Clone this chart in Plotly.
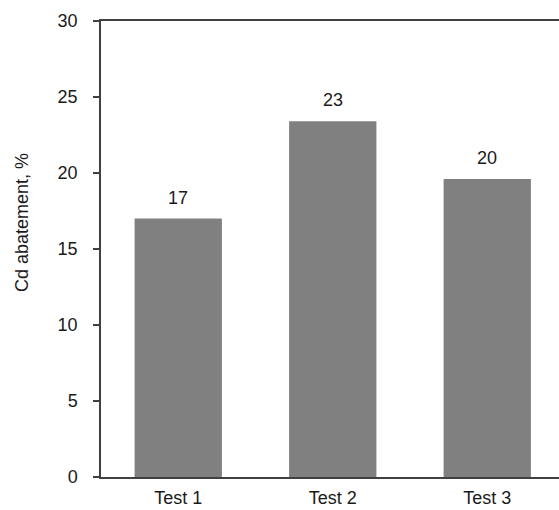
import plotly.graph_objects as go

categories = ["Test 1", "Test 2", "Test 3"]
values = [17.0, 23.4, 19.6]
value_labels = ["17", "23", "20"]
y_ticks = [0, 5, 10, 15, 20, 25, 30]

W, H = 559, 510
left, top, bottom = 101, 21, 33
plot_w = W - left
step = 154.5
x_max = -0.5 + plot_w / step

font = dict(family="Liberation Sans, Arial, sans-serif", size=18, color="#1a1a1a")
axis_col = "#404040"

fig = go.Figure()
fig.add_trace(go.Bar(
    x=categories, y=values,
    marker=dict(color="#808080", line=dict(width=0)),
    width=0.565,
    hoverinfo="skip",
))

for c, v, t in zip(categories, values, value_labels):
    fig.add_annotation(x=c, y=v, text=t, showarrow=False, yshift=21,
                       yanchor="middle", font=font)

fig.add_annotation(xref="paper", yref="paper",
                   x=(22 - left) / plot_w, y=1 - (223 - top) / (H - top - bottom),
                   text="Cd abatement, %", textangle=-90, showarrow=False,
                   xanchor="center", yanchor="middle", font=font)

fig.update_layout(
    width=W, height=H,
    margin=dict(l=left, r=0, t=top, b=bottom, pad=0),
    paper_bgcolor="white", plot_bgcolor="white",
    showlegend=False,
    font=font,
    xaxis=dict(
        range=[-0.5, x_max], showline=True, linecolor=axis_col, linewidth=1.5,
        mirror=True, ticks="", showgrid=False, zeroline=False,
        tickfont=font, ticklabelstandoff=4, fixedrange=True,
    ),
    yaxis=dict(
        range=[0, 30], tickvals=y_ticks, showline=True, linecolor=axis_col,
        linewidth=1.5, ticks="outside", ticklen=6, tickcolor=axis_col,
        tickwidth=1.5, showgrid=False, zeroline=False, tickfont=font,
        ticklabelstandoff=12, fixedrange=True,
    ),
)

fig.write_html("out.html", config={"displayModeBar": False},
               post_script="document.body.style.margin='0';document.body.style.overflow='hidden';")
